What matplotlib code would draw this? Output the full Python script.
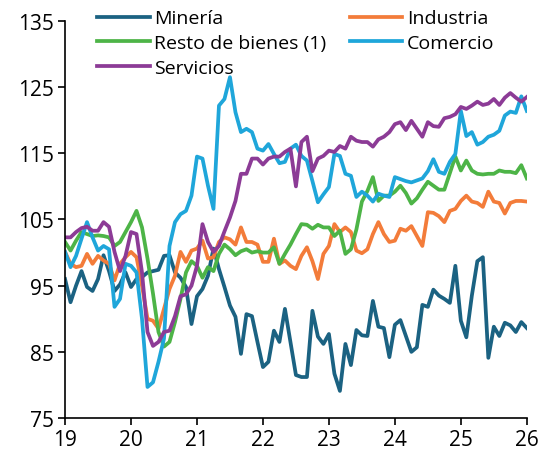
import numpy as np
import matplotlib
matplotlib.use("Agg")
import matplotlib.pyplot as plt

plt.rcParams['font.family'] = ['Open Sans', 'DejaVu Sans']

# monthly index values, Jan 2019 .. Jan 2026
mineria = [96.0, 92.5, 95.0, 97.2, 94.8, 94.2, 96.0, 99.6, 97.2, 94.2,
           95.2, 97.0, 94.8, 96.0, 96.3, 97.0, 97.2, 97.4, 99.5, 99.6,
           97.0, 96.2, 94.8, 89.2, 93.4, 94.5, 96.5, 100.6, 97.5, 94.8,
           92.0, 90.3, 84.7, 90.7, 90.4, 86.5, 82.7, 83.5, 88.2, 86.5,
           91.5, 86.5, 81.5, 81.2, 81.2, 91.2, 87.3, 86.2, 87.7, 81.7,
           79.1, 86.2, 83.0, 88.3, 87.5, 87.4, 92.7, 88.8, 88.6, 84.2,
           89.1, 89.8, 87.4, 85.0, 85.7, 92.1, 91.8, 94.4, 93.5, 93.0,
           92.4, 98.0, 89.7, 87.2, 93.5, 98.7, 99.3, 84.1, 88.8, 87.4,
           89.4, 89.0, 88.0, 89.5, 88.6]
industria = [100.1, 98.3, 97.8, 98.0, 99.8, 98.3, 99.5, 98.8, 98.3, 95.8,
             98.3, 99.3, 100.1, 99.3, 95.0, 90.0, 89.7, 88.5, 91.5, 94.5,
             96.5, 100.1, 98.6, 100.3, 100.6, 101.8, 99.1, 99.3, 101.6, 102.3,
             102.0, 101.2, 103.8, 101.6, 101.6, 101.2, 98.6, 98.6, 102.1, 98.3,
             98.8, 98.0, 97.5, 99.5, 100.8, 98.7, 96.0, 99.8, 101.0, 104.3,
             103.1, 103.8, 103.1, 100.3, 99.9, 100.5, 102.8, 104.6, 102.8, 101.6,
             101.8, 103.6, 103.3, 104.0, 102.5, 101.0, 106.1, 106.0, 105.5, 104.6,
             106.3, 106.6, 107.8, 108.6, 107.7, 107.5, 106.9, 109.2, 107.7, 107.5,
             105.9, 107.5, 107.8, 107.8, 107.7]
resto = [101.6, 100.3, 101.8, 103.1, 102.8, 102.5, 102.6, 102.5, 102.3, 101.0,
         101.6, 103.1, 104.6, 106.3, 103.8, 99.1, 93.8, 88.0, 85.8, 86.5,
         89.5, 93.0, 97.0, 98.7, 98.0, 96.2, 97.8, 97.2, 99.8, 101.2,
         100.5, 99.6, 100.2, 100.5, 100.0, 100.2, 100.0, 100.0, 100.8, 98.3,
         99.8, 101.2, 102.8, 104.3, 104.2, 103.6, 104.2, 103.8, 103.8, 102.5,
         103.3, 99.8, 100.5, 103.5, 107.7, 109.3, 111.4, 107.8, 108.6, 108.6,
         109.2, 110.1, 109.0, 107.4, 108.2, 109.5, 110.7, 110.1, 109.5, 109.5,
         112.0, 114.5, 112.4, 113.9, 112.4, 111.9, 111.8, 111.9, 111.9, 112.4,
         112.2, 112.2, 112.0, 113.2, 111.2]
comercio = [100.1, 97.8, 99.5, 102.1, 104.6, 102.3, 100.3, 101.0, 100.5, 91.8,
            93.0, 98.3, 98.0, 97.0, 90.0, 79.7, 80.4, 83.5, 87.0, 101.0,
            104.6, 105.8, 106.3, 108.6, 114.5, 114.2, 110.1, 106.6, 122.2, 123.2,
            126.5, 121.2, 118.2, 118.7, 118.2, 115.7, 115.4, 116.4, 114.9, 113.5,
            113.7, 115.7, 116.3, 114.6, 113.9, 110.8, 107.6, 108.8, 109.9, 114.9,
            114.6, 111.9, 111.6, 108.4, 109.2, 108.6, 107.7, 108.9, 108.6, 108.4,
            111.4, 111.1, 110.8, 110.6, 110.9, 111.2, 112.3, 114.1, 112.2, 111.9,
            113.7, 114.9, 121.4, 117.6, 118.2, 116.3, 116.7, 117.5, 117.8, 118.4,
            120.7, 121.3, 121.1, 123.6, 121.4]
servicios = [102.3, 102.3, 103.1, 103.7, 103.9, 103.3, 103.3, 104.6, 103.9, 100.1,
             97.2, 99.5, 103.1, 102.8, 97.0, 88.0, 85.9, 86.5, 88.0, 88.2,
             90.4, 93.4, 93.7, 95.0, 98.0, 104.3, 101.6, 100.1, 101.0, 103.2,
             105.3, 107.8, 111.9, 111.9, 114.2, 114.2, 113.3, 114.2, 114.5, 114.5,
             115.2, 115.7, 110.0, 116.7, 117.5, 112.3, 114.2, 114.6, 115.4, 115.2,
             116.1, 115.7, 117.5, 116.9, 116.7, 116.7, 116.0, 117.1, 117.5, 118.2,
             119.4, 119.7, 118.5, 119.9, 118.7, 117.5, 119.7, 119.1, 119.0, 120.3,
             120.5, 120.9, 122.0, 121.7, 122.2, 122.8, 122.3, 122.5, 123.2, 122.3,
             123.4, 124.1, 123.4, 122.8, 123.5]

x = 19 + np.arange(len(mineria)) / 12

fig = plt.figure(figsize=(5.42, 4.56), dpi=100)
ax = fig.add_axes([0.12, 0.081, 0.852, 0.871])

lw = 2.7
l_min, = ax.plot(x, mineria, color='#1b6282', lw=lw, label='Minería')
l_ind, = ax.plot(x, industria, color='#f37c3a', lw=lw, label='Industria')
l_res, = ax.plot(x, resto, color='#4db447', lw=lw, label='Resto de bienes (1)')
l_com, = ax.plot(x, comercio, color='#1fa6da', lw=lw, label='Comercio')
l_ser, = ax.plot(x, servicios, color='#8c3b96', lw=lw, label='Servicios')

ax.set_xlim(19, 26)
ax.set_ylim(75, 135)
ax.set_xticks(range(19, 27))
ax.set_yticks(range(75, 136, 10))

for s in ['top', 'right']:
    ax.spines[s].set_visible(False)
for s in ['left', 'bottom']:
    ax.spines[s].set_linewidth(1.2)
ax.tick_params(direction='out', length=5, width=1.2, labelsize=15, pad=3)

leg = fig.legend([l_min, l_res, l_ser, l_ind, l_com],
                 ['Minería', 'Resto de bienes (1)', 'Servicios', 'Industria', 'Comercio'],
                 ncol=2, loc='upper left', bbox_to_anchor=(0.179, 0.977),
                 frameon=False, fontsize=14, handlelength=2.7,
                 handletextpad=0.25, columnspacing=1.2, labelspacing=0.34,
                 borderaxespad=0, borderpad=0)

fig.savefig('out.png', dpi=100)
